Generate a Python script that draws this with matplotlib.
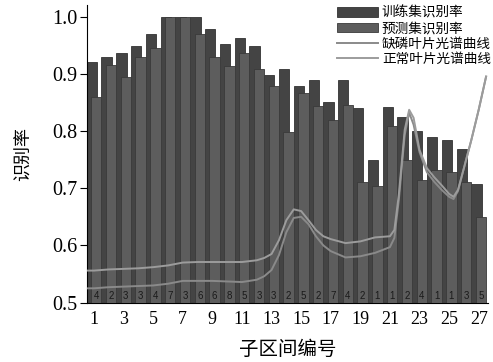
import numpy as np
import matplotlib
matplotlib.use("Agg")
import matplotlib.pyplot as plt

# sub-interval index and recognition rates
intervals = np.arange(1, 28)
train_rate = [0.920, 0.929, 0.936, 0.949, 0.970, 1.000, 1.000, 1.000, 0.978, 0.952,
              0.962, 0.949, 0.898, 0.908, 0.879, 0.889, 0.850, 0.889, 0.840, 0.749,
              0.841, 0.824, 0.800, 0.790, 0.784, 0.769, 0.707]
test_rate = [0.859, 0.915, 0.895, 0.929, 0.945, 1.000, 1.000, 0.970, 0.929, 0.913,
             0.936, 0.908, 0.879, 0.799, 0.866, 0.843, 0.819, 0.846, 0.710, 0.704,
             0.809, 0.749, 0.714, 0.731, 0.729, 0.711, 0.650]
band_count = ["4", "2", "3", "3", "4", "7", "3", "6", "6", "8", "5", "3", "3", "2",
              "5", "2", "7", "4", "2", "1", "1", "2", "4", "1", "1", "3", "5"]

# spectral curves (scaled to the rate axis), sampled along the interval axis
curve_x = [0.55, 1, 2, 3, 4, 5, 6, 7, 8, 9, 10, 11, 12, 12.5, 13, 13.5, 14, 14.5, 15,
           15.5, 16, 16.5, 17, 18, 19, 20, 20.5, 21, 21.3, 21.6, 22, 22.3, 22.6, 23,
           23.5, 24, 24.5, 25, 25.3, 25.6, 26, 26.5, 27, 27.5]
p_def_curve = [0.525, 0.525, 0.527, 0.528, 0.529, 0.530, 0.533, 0.538, 0.538, 0.538,
               0.537, 0.536, 0.540, 0.546, 0.557, 0.583, 0.623, 0.648, 0.650, 0.637,
               0.616, 0.600, 0.590, 0.579, 0.581, 0.587, 0.592, 0.597, 0.613, 0.679,
               0.793, 0.832, 0.811, 0.763, 0.728, 0.711, 0.697, 0.685, 0.681, 0.695,
               0.735, 0.784, 0.837, 0.895]
normal_curve = [0.556, 0.556, 0.558, 0.559, 0.560, 0.562, 0.565, 0.570, 0.571, 0.571,
                0.571, 0.571, 0.574, 0.578, 0.585, 0.609, 0.644, 0.663, 0.660, 0.644,
                0.627, 0.616, 0.611, 0.604, 0.607, 0.614, 0.615, 0.616, 0.627, 0.688,
                0.802, 0.837, 0.823, 0.767, 0.735, 0.719, 0.705, 0.690, 0.685, 0.697,
                0.735, 0.784, 0.837, 0.895]

plt.rcParams["font.family"] = ["Noto Sans CJK SC", "DejaVu Sans"]

fig = plt.figure(figsize=(4.93, 3.62), dpi=100)
ax = fig.add_axes([0.1765, 0.164, 0.8125, 0.822])

w = 0.7
b1 = ax.bar(intervals - 0.15, np.array(train_rate) - 0.5, w, bottom=0.5, color="#444444",
            edgecolor="#333333", linewidth=0.6, zorder=2)
b2 = ax.bar(intervals + 0.15, np.array(test_rate) - 0.5, w, bottom=0.5, color="#5d5d5d",
            edgecolor="#3a3a3a", linewidth=0.6, zorder=3)
l1, = ax.plot(curve_x, p_def_curve, color="#8a8a8a", lw=1.4, zorder=4)
l2, = ax.plot(curve_x, normal_curve, color="#9c9c9c", lw=1.4, zorder=4)

for x, s in zip(intervals, band_count):
    ax.text(x + 0.15, 0.503, s, ha="center", va="bottom", fontsize=7,
            family="Liberation Sans", color="#1a1a1a", zorder=5)

ax.set_xlim(0.53, 27.6)
ax.set_ylim(0.5, 1.02)
ax.set_xticks(intervals[::2])
ax.set_yticks([0.5, 0.6, 0.7, 0.8, 0.9, 1.0])
ax.set_yticklabels(["0.5", "0.6", "0.7", "0.8", "0.9", "1.0"])
for lab in ax.get_xticklabels():
    lab.set_family("Liberation Serif")
    lab.set_fontsize(13)
for lab in ax.get_yticklabels():
    lab.set_family("Liberation Serif")
    lab.set_fontsize(14.5)
ax.tick_params(axis="x", length=0, pad=6)
ax.tick_params(axis="y", length=5, direction="out", pad=2)
ax.spines["top"].set_visible(False)
ax.spines["right"].set_visible(False)
ax.set_xlabel("子区间编号", fontsize=14, labelpad=8)
ax.set_ylabel("识别率", fontsize=13, labelpad=14)

ax.legend([b1, b2, l1, l2], ["训练集识别率", "预测集识别率", "缺磷叶片光谱曲线", "正常叶片光谱曲线"],
          loc="upper right", bbox_to_anchor=(1.025, 1.02), frameon=False, fontsize=9.8,
          handlelength=3.0, handletextpad=0.3, labelspacing=0.1, borderaxespad=0.1)

fig.savefig("out.png", dpi=100)
